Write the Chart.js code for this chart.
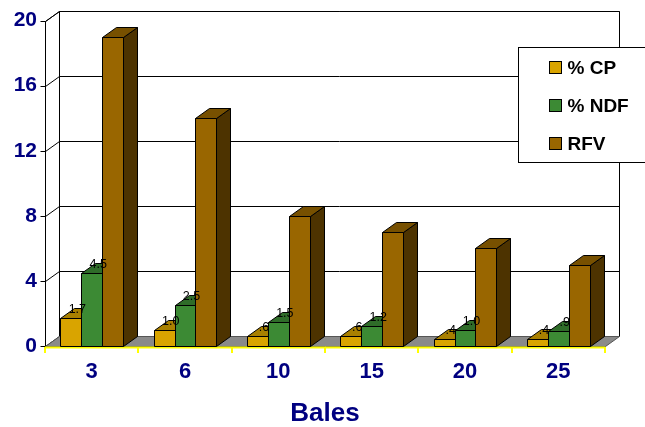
<!DOCTYPE html>
<html>
<head>
<meta charset="utf-8">
<script src="https://cdn.jsdelivr.net/npm/chart.js@4/dist/chart.umd.min.js"></script>
<style>
  html, body { margin: 0; padding: 0; background: #fff; }
  #wrap { width: 645px; height: 427px; }
</style>
</head>
<body>
<div id="wrap"><canvas id="c" width="645" height="427"></canvas></div>
<script>
// Bale sample results
const categories = ['3', '6', '10', '15', '20', '25'];
const seriesNames = ['% CP', '% NDF', 'RFV'];
const cpValues = [1.7, 1.0, 0.6, 0.6, 0.4, 0.4];
const ndfValues = [4.5, 2.5, 1.5, 1.2, 1.0, 0.9];
const rfvValues = [19, 14, 8, 7, 6, 5];
const yTickValues = [0, 4, 8, 12, 16, 20];
const labelledSeries = [0, 1]; // series that carry value labels

const seriesColors = ['#D9A400', '#3C8A34', '#996600'];
const FONT = "'Liberation Sans', Arial, Helvetica, sans-serif";
const NAVY = '#000080';
const DX = 14, DY = -10; // depth offset of the 3-D box

function shade(hex, f) {
  const n = parseInt(hex.slice(1), 16);
  const r = Math.round(((n >> 16) & 255) * f);
  const g = Math.round(((n >> 8) & 255) * f);
  const b = Math.round((n & 255) * f);
  return `rgb(${r},${g},${b})`;
}

function fmt(v) {
  return v.toFixed(1).replace(/^0/, '');
}

function poly(ctx, pts, fill, stroke) {
  ctx.beginPath();
  ctx.moveTo(pts[0][0], pts[0][1]);
  for (let i = 1; i < pts.length; i++) ctx.lineTo(pts[i][0], pts[i][1]);
  ctx.closePath();
  if (fill) { ctx.fillStyle = fill; ctx.fill(); }
  if (stroke) { ctx.strokeStyle = stroke; ctx.lineWidth = 1; ctx.stroke(); }
}

const box3d = {
  id: 'box3d',
  beforeDatasetsDraw(chart) {
    const ctx = chart.ctx;
    const { left: L, right: R, top: T, bottom: B } = chart.chartArea;
    const ys = chart.scales.y;
    ctx.save();
    ctx.translate(0.5, 0.5);
    const l = Math.round(L), r = Math.round(R), t = Math.round(T), b = Math.round(B);

    // walls
    poly(ctx, [[l, t], [l + DX, t + DY], [l + DX, b + DY], [l, b]], '#fff', '#000');
    poly(ctx, [[l + DX, t + DY], [r + DX, t + DY], [r + DX, b + DY], [l + DX, b + DY]], '#fff', '#000');

    // grid lines on the walls and tick marks on the front axis
    ctx.strokeStyle = '#000';
    ctx.lineWidth = 1;
    yTickValues.forEach(v => {
      const py = Math.round(ys.getPixelForValue(v));
      ctx.beginPath();
      if (v > 0) {
        ctx.moveTo(l, py);
        ctx.lineTo(l + DX, py + DY);
        ctx.lineTo(r + DX, py + DY);
      }
      ctx.moveTo(l - 5, py);
      ctx.lineTo(l, py);
      ctx.stroke();
    });

    // floor
    poly(ctx, [[l, b], [r, b], [r + DX, b + DY], [l + DX, b + DY]], '#8a8a8a', '#555');

    // front value axis
    ctx.beginPath();
    ctx.moveTo(l, t);
    ctx.lineTo(l, b);
    ctx.strokeStyle = '#000';
    ctx.stroke();
    ctx.restore();

    // category axis (yellow) with boundary ticks
    ctx.save();
    ctx.strokeStyle = '#FFFF00';
    ctx.lineWidth = 2;
    ctx.beginPath();
    ctx.moveTo(L, B + 1.5);
    ctx.lineTo(R, B + 1.5);
    const n = categories.length;
    for (let k = 0; k <= n; k++) {
      const px = Math.round(L + (R - L) * k / n);
      ctx.moveTo(px, B + 1);
      ctx.lineTo(px, B + 7);
    }
    ctx.stroke();
    ctx.restore();

    // bars, left to right so each front hides the previous side face
    ctx.save();
    ctx.translate(0.5, 0.5);
    const metas = chart.data.datasets.map((d, i) => chart.getDatasetMeta(i));
    for (let i = 0; i < n; i++) {
      metas.forEach((meta, d) => {
        const el = meta.data[i];
        const p = el.getProps(['x', 'y', 'base', 'width'], true);
        const x0 = Math.round(p.x - p.width / 2);
        const x1 = Math.round(p.x + p.width / 2);
        const top = Math.round(p.y);
        const base = Math.round(p.base);
        const c = seriesColors[d];
        poly(ctx, [[x1, top], [x1 + DX, top + DY], [x1 + DX, base + DY], [x1, base]], shade(c, 0.5), '#000');
        poly(ctx, [[x0, top], [x0 + DX, top + DY], [x1 + DX, top + DY], [x1, top]], shade(c, 0.78), '#000');
        poly(ctx, [[x0, top], [x1, top], [x1, base], [x0, base]], c, '#000');
      });
    }
    ctx.restore();

    // value labels
    ctx.save();
    ctx.fillStyle = '#000';
    ctx.font = `12.5px ${FONT}`;
    ctx.textAlign = 'center';
    ctx.textBaseline = 'middle';
    labelledSeries.forEach(d => {
      const meta = metas[d];
      const vals = chart.data.datasets[d].data;
      meta.data.forEach((el, i) => {
        const p = el.getProps(['x', 'y'], true);
        ctx.fillText(fmt(vals[i]), p.x + 6.5, p.y - 8.5);
      });
    });
    ctx.restore();
    return false;
  },
  afterDraw(chart) {
    // legend box
    const ctx = chart.ctx;
    ctx.save();
    ctx.translate(0.5, 0.5);
    ctx.fillStyle = '#fff';
    ctx.strokeStyle = '#000';
    ctx.lineWidth = 1;
    ctx.fillRect(518, 47, 140, 115);
    ctx.strokeRect(518, 47, 140, 115);
    ctx.font = `bold 19px ${FONT}`;
    ctx.textBaseline = 'middle';
    ctx.textAlign = 'left';
    chart.data.datasets.forEach((ds, i) => {
      const cy = 67 + i * 38;
      ctx.fillStyle = seriesColors[i];
      ctx.fillRect(549, cy - 6, 12, 12);
      ctx.strokeRect(549, cy - 6, 12, 12);
      ctx.fillStyle = '#000';
      ctx.fillText(ds.label, 567, cy + 1);
    });
    ctx.restore();
  }
};

new Chart(document.getElementById('c'), {
  type: 'bar',
  data: {
    labels: categories,
    datasets: [
      { label: seriesNames[0], data: cpValues, backgroundColor: seriesColors[0] },
      { label: seriesNames[1], data: ndfValues, backgroundColor: seriesColors[1] },
      { label: seriesNames[2], data: rfvValues, backgroundColor: seriesColors[2] }
    ]
  },
  options: {
    responsive: false,
    animation: false,
    events: [],
    layout: { padding: { top: 18, right: 40, left: 0, bottom: 0 } },
    datasets: { bar: { categoryPercentage: 0.67, barPercentage: 1.0 } },
    plugins: { legend: { display: false }, tooltip: { enabled: false } },
    scales: {
      x: {
        grid: { display: false, drawTicks: false },
        border: { display: false },
        ticks: { color: NAVY, font: { family: FONT, size: 22, weight: 'bold' }, padding: 13, maxRotation: 0 },
        title: {
          display: true, text: 'Bales', color: NAVY,
          font: { family: FONT, size: 26, weight: 'bold', lineHeight: 1.0 },
          padding: { top: 0, bottom: 0 }
        },
        afterFit(s) { s.height = 81; }
      },
      y: {
        min: 0, max: 20,
        grid: { display: false, drawTicks: false },
        border: { display: false },
        afterBuildTicks(s) { s.ticks = yTickValues.map(v => ({ value: v })); },
        ticks: { color: NAVY, font: { family: FONT, size: 21, weight: 'bold' }, padding: 8 },
        afterFit(s) { s.width = 45; }
      }
    }
  },
  plugins: [box3d]
});
</script>
</body>
</html>
